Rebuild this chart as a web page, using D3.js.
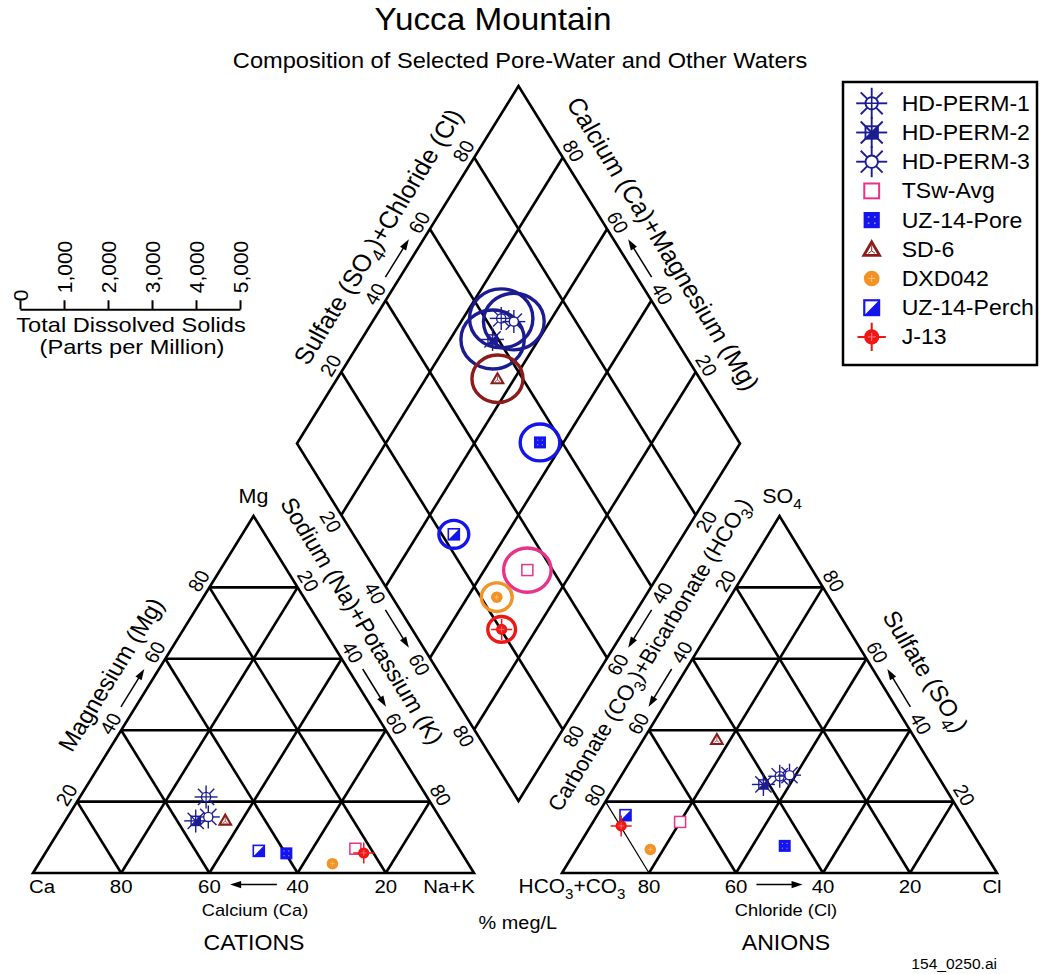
<!DOCTYPE html>
<html><head><meta charset="utf-8">
<script src="https://cdn.jsdelivr.net/npm/d3@7"></script>
<style>
body{margin:0;background:#fff;}
svg{display:block;background:#fff;}
text{font-family:"Liberation Sans",Arial,Helvetica,sans-serif;fill:#000;}
</style>
</head><body>
<svg id="c" width="1040" height="974"></svg>
<script>
// ---------------- DATA ----------------
const samples = ["HD-PERM-1","HD-PERM-2","HD-PERM-3","TSw-Avg","UZ-14-Pore","SD-6","DXD042","UZ-14-Perch","J-13"];
// cations, percent meq/L
const calcium = [50.1, 55.8, 52.4, 23.5, 39.8, 49.0, 30.8, 45.7, 22.2];
const magnesium = [21.3, 14.6, 15.7, 6.8, 5.5, 14.8, 2.6, 6.2, 5.6];
const sodiumPotassium = [28.6, 29.6, 31.9, 69.7, 54.7, 36.2, 66.6, 48.1, 72.2];
// anions, percent meq/L
const bicarbonate = [36.4, 41.3, 34.0, 65.7, 45.0, 45.7, 76.4, 77.3, 79.8];
const sulfate = [27.1, 24.8, 27.4, 14.3, 7.6, 37.4, 6.6, 16.2, 13.2];
const chloride = [36.5, 33.9, 38.6, 20.0, 47.4, 16.9, 17.0, 6.5, 7.0];
// total dissolved solids, ppm
const tds = [720, 720, 690, 540, 450, 580, 350, 340, 315];
const gridTicks = [20, 40, 60, 80];
const tdsTicks = [0, 1000, 2000, 3000, 4000, 5000];

// ---------------- STYLES ----------------
const navy = "#1c1c92", blue = "#1414ee", pink = "#e6348b", dred = "#8c1b1b", orange = "#f39326", red = "#ef1616";
const styleBySample = {
  "HD-PERM-1": {sym: "perm1", col: navy},
  "HD-PERM-2": {sym: "perm2", col: navy},
  "HD-PERM-3": {sym: "perm3", col: navy},
  "TSw-Avg": {sym: "tsw", col: pink},
  "UZ-14-Pore": {sym: "uzpore", col: blue},
  "SD-6": {sym: "sd6", col: dred},
  "DXD042": {sym: "dxd", col: orange},
  "UZ-14-Perch": {sym: "uzperch", col: blue},
  "J-13": {sym: "j13", col: red}
};
const SX = 1.074; // horizontal stretch of the original artwork

const svg = d3.select("#c");

// ---------------- SCALES ----------------
const catX = d3.scaleLinear().domain([0, 100]).range([33, 474]);
const anX = d3.scaleLinear().domain([0, 100]).range([562, 997]);
const triY = d3.scaleLinear().domain([0, 100]).range([873, 516]);
const diaX = d3.scaleLinear().domain([0, 200]).range([297, 740]);
const diaY = d3.scaleLinear().domain([-100, 100]).range([86, 801]);
const tdsR = d3.scaleLinear().domain([0, 5000]).range([0, 220]);

function catPt(ca, mg, nak) { return [catX(nak + mg / 2), triY(mg)]; }
function anPt(hco3, so4, cl) { return [anX(cl + so4 / 2), triY(so4)]; }
function diaPt(nak, scl) { return [diaX(nak + scl), diaY(nak - scl)]; }

const line = d3.line();

// ---------------- TEXT HELPER ----------------
function addText(g, x, y, parts, size, angle = 0, anchor = "middle", sx = SX) {
  const t = g.append("text")
    .attr("transform", `translate(${x},${y}) scale(${sx},1) rotate(${angle})`)
    .attr("y", size * 0.35).attr("text-anchor", anchor).attr("font-size", size);
  if (typeof parts === "string") parts = [parts];
  let sub = false;
  parts.forEach(p => {
    if (Array.isArray(p)) {
      t.append("tspan").attr("dy", size * 0.3).attr("font-size", size * 0.72).text(p[0]);
      sub = true;
    } else {
      const ts = t.append("tspan").text(p);
      if (sub) { ts.attr("dy", -size * 0.3); sub = false; }
    }
  });
  return t;
}

// ---------------- GRID ----------------
const grid = svg.append("g").attr("fill", "none").attr("stroke", "#000").attr("stroke-width", 2.6)
  .attr("stroke-linejoin", "miter").attr("stroke-linecap", "butt");

// cation triangle
grid.append("path").attr("d", line([catPt(100, 0, 0), catPt(0, 100, 0), catPt(0, 0, 100)]) + "Z");
gridTicks.forEach(v => {
  grid.append("path").attr("d", line([catPt(100 - v, v, 0), catPt(0, v, 100 - v)]));
  grid.append("path").attr("d", line([catPt(v, 100 - v, 0), catPt(v, 0, 100 - v)]));
  grid.append("path").attr("d", line([catPt(100 - v, 0, v), catPt(0, 100 - v, v)]));
});
// anion triangle
grid.append("path").attr("d", line([anPt(100, 0, 0), anPt(0, 100, 0), anPt(0, 0, 100)]) + "Z");
gridTicks.forEach(v => {
  grid.append("path").attr("d", line([anPt(100 - v, v, 0), anPt(0, v, 100 - v)]));
  grid.append("path").attr("d", line([anPt(100 - v, 0, v), anPt(0, 100 - v, v)]));
  const p = grid.append("path").attr("d", line([anPt(v, 100 - v, 0), anPt(v, 0, 100 - v)]));
  if (v === 80) p.attr("stroke-width", 1.2);
});
// diamond
grid.append("path").attr("d", line([diaPt(0, 0), diaPt(0, 100), diaPt(100, 100), diaPt(100, 0)]) + "Z");
gridTicks.forEach(v => {
  grid.append("path").attr("d", line([diaPt(v, 0), diaPt(v, 100)]));
  grid.append("path").attr("d", line([diaPt(0, v), diaPt(100, v)]));
});

// ---------------- EDGE LABELS ----------------
const nUL = [-0.8502, -0.5265], nUR = [0.8502, -0.5265], nLL = [-0.8502, 0.5265], nLR = [0.8502, 0.5265], nDown = [0, 1];
const edges = {
  catBase: {pt: v => catPt(v, 0, 100 - v), n: nDown, a: 0},
  catLeft: {pt: v => catPt(100 - v, v, 0), n: nUL, a: -60},
  catRight: {pt: v => catPt(0, 100 - v, v), n: nUR, a: 60},
  diaUL: {pt: v => diaPt(0, v), n: nUL, a: -60},
  diaUR: {pt: v => diaPt(100 - v, 100), n: nUR, a: 60},
  diaLL: {pt: v => diaPt(v, 0), n: nLL, a: 60},
  diaLR: {pt: v => diaPt(100, 100 - v), n: nLR, a: -60},
  anLeft: {pt: v => anPt(v, 100 - v, 0), n: nUL, a: -60},
  anRight: {pt: v => anPt(0, v, 100 - v), n: nUR, a: 60},
  anBase: {pt: v => anPt(v, 0, 100 - v), n: nDown, a: 0}
};
const lab = svg.append("g");
function off(e, v, d) { const p = e.pt(v); return [p[0] + d * e.n[0], p[1] + d * e.n[1]]; }

Object.keys(edges).forEach(k => {
  const e = edges[k];
  const d = e.a === 0 ? 13.4 : 12.5;
  gridTicks.forEach(v => {
    const p = off(e, v, d);
    addText(lab, p[0], p[1], String(v), 19, e.a);
  });
  // arrow
  let v0 = 44.7, v1 = 55.3;
  if (k === "anBase") { v0 = 55.3; v1 = 44.7; }
  const dd = e.a === 0 ? 11.6 : 12.5;
  const p0 = off(e, v0, dd), p1 = off(e, v1, dd);
  const L = Math.hypot(p1[0] - p0[0], p1[1] - p0[1]);
  const u = [(p1[0] - p0[0]) / L, (p1[1] - p0[1]) / L], w = [-u[1], u[0]];
  const hb = [p1[0] - 11 * u[0], p1[1] - 11 * u[1]];
  lab.append("path").attr("d", line([p0, [p1[0] - 6 * u[0], p1[1] - 6 * u[1]]])).attr("stroke", "#000").attr("stroke-width", 1.5);
  lab.append("path").attr("d", line([p1, [hb[0] + 3.6 * w[0], hb[1] + 3.6 * w[1]], [hb[0] - 3.6 * w[0], hb[1] - 3.6 * w[1]]]) + "Z").attr("fill", "#000");
});

function edgeTitle(k, v, d, parts, size) {
  const e = edges[k]; const p = off(e, v, d);
  addText(lab, p[0], p[1], parts, size, e.a);
}
edgeTitle("catLeft", 50, 38, "Magnesium (Mg)", 23);
edgeTitle("diaUL", 52, 40, ["Sulfate (SO", ["4"], ")+Chloride (Cl)"], 24);
edgeTitle("diaUR", 50, 40, "Calcium (Ca)+Magnesium (Mg)", 24);
edgeTitle("diaLL", 44, 38, "Sodium (Na)+Potassium (K)", 22.5);
edgeTitle("diaLR", 54, 34, ["Carbonate (CO", ["3"], ")+Bicarbonate (HCO", ["3"], ")"], 21);
edgeTitle("anRight", 50, 44, ["Sulfate (SO", ["4"], ")"], 23);

// corner labels
addText(lab, 42, 886.4, "Ca", 19);
addText(lab, 449, 886.4, "Na+K", 19);
addText(lab, 572, 886.4, ["HCO", ["3"], "+CO", ["3"]], 19.5);
addText(lab, 992, 886.4, "Cl", 19);
addText(lab, 253.5, 496, "Mg", 20);
addText(lab, 782, 496, ["SO", ["4"]], 20);

// axis names
addText(lab, 255, 910.5, "Calcium (Ca)", 17);
addText(lab, 786, 910.5, "Chloride (Cl)", 17);
addText(lab, 254, 942.3, "CATIONS", 21.5);
addText(lab, 786, 942.3, "ANIONS", 21.5);
addText(lab, 557, 923, "% meg/L", 18.5, 0, "end");
addText(lab, 997, 964, "154_0250.ai", 14.5, 0, "end");

// titles
addText(lab, 493, 19, "Yucca Mountain", 31);
addText(lab, 520, 60, "Composition of Selected Pore-Water and Other Waters", 22);

// ---------------- TDS SCALE ----------------
const tdsAxis = d3.axisTop(tdsR).tickValues(tdsTicks).tickSize(9).tickSizeOuter(0).tickFormat(d3.format(","));
const ag = svg.append("g").attr("transform", "translate(20,309.3)").call(tdsAxis);
ag.attr("font-family", null).attr("font-size", null);
ag.select(".domain").attr("stroke-width", 2);
ag.selectAll(".tick line").attr("stroke-width", 2);
ag.selectAll(".tick text").attr("transform", "rotate(-90)").attr("x", d => d === 0 ? 8 : 16).attr("y", 0)
  .attr("dy", "0.35em").attr("text-anchor", "start").attr("font-size", 21).attr("fill", "#000");
addText(lab, 131, 324.5, "Total Dissolved Solids", 20, 0, "middle", 1.18);
addText(lab, 132, 347, "(Parts per Million)", 20, 0, "middle", 1.18);

// ---------------- SYMBOLS ----------------
function spokes(g, r0, r1, col, w) {
  for (let i = 0; i < 8; i++) {
    const a = i * Math.PI / 4;
    g.append("line").attr("x1", r0 * Math.cos(a)).attr("y1", r0 * Math.sin(a))
      .attr("x2", r1 * Math.cos(a)).attr("y2", r1 * Math.sin(a)).attr("stroke", col).attr("stroke-width", w);
  }
}
function drawSymbol(parent, type, x, y, k) {
  const g = parent.append("g").attr("transform", `translate(${x},${y}) scale(${k})`);
  switch (type) {
    case "perm1":
      spokes(g, 4.6, 11.5, navy, 1.4);
      g.append("circle").attr("r", 4.6).attr("fill", "#fff").attr("stroke", navy).attr("stroke-width", 1.4);
      g.append("path").attr("d", "M-4.6,0H4.6M0,-4.6V4.6").attr("stroke", navy).attr("stroke-width", 1.2);
      break;
    case "perm2":
      spokes(g, 0, 11.5, navy, 1.4);
      g.append("rect").attr("x", -4.6).attr("y", -4.6).attr("width", 9.2).attr("height", 9.2).attr("fill", "none").attr("stroke", navy).attr("stroke-width", 1.4);
      g.append("path").attr("d", "M4.6,-4.6L4.6,4.6L-4.6,4.6Z").attr("fill", navy);
      break;
    case "perm3":
      spokes(g, 4.6, 11.5, navy, 1.4);
      g.append("circle").attr("r", 4.6).attr("fill", "#fff").attr("stroke", navy).attr("stroke-width", 1.4);
      break;
    case "tsw":
      g.append("rect").attr("x", -5.5).attr("y", -5.5).attr("width", 11).attr("height", 11).attr("fill", "#fff").attr("stroke", pink).attr("stroke-width", 1.5);
      break;
    case "uzpore":
      g.append("rect").attr("x", -6).attr("y", -6).attr("width", 12).attr("height", 12).attr("fill", blue);
      [[-2.3, -2.3], [2.3, -2.3], [-2.3, 2.3], [2.3, 2.3]].forEach(p => g.append("circle").attr("cx", p[0]).attr("cy", p[1]).attr("r", 0.7).attr("fill", "#8c8cff"));
      break;
    case "sd6":
      g.append("path").attr("d", "M0,-5.5L5.8,4.5L-5.8,4.5Z").attr("fill", "#fff").attr("stroke", dred).attr("stroke-width", 2.1);
      g.append("path").attr("d", "M0,-3L0,1.2M-2.5,3L0,1.2L2.5,3").attr("fill", "none").attr("stroke", dred).attr("stroke-width", 0.7);
      break;
    case "dxd":
      g.append("circle").attr("r", 5.8).attr("fill", orange);
      g.append("path").attr("d", "M-2.5,0H2.5M0,-2.5V2.5").attr("stroke", "#ffc27a").attr("stroke-width", 0.8);
      break;
    case "uzperch":
      g.append("rect").attr("x", -5.5).attr("y", -5.5).attr("width", 11).attr("height", 11).attr("fill", "#fff").attr("stroke", blue).attr("stroke-width", 1.6);
      g.append("path").attr("d", "M5.5,-5.5L5.5,5.5L-5.5,5.5Z").attr("fill", blue);
      break;
    case "j13":
      g.append("path").attr("d", "M-10.5,0H10.5M0,-10.5V10.5").attr("stroke", red).attr("stroke-width", 1.5);
      g.append("circle").attr("r", 5.6).attr("fill", red);
      g.append("path").attr("d", "M-3,0H3M0,-3V3").attr("stroke", "#ff8a8a").attr("stroke-width", 0.7);
      break;
  }
}

// ---------------- DATA MARKS ----------------
const rows = samples.map((s, i) => ({
  name: s, ca: calcium[i], mg: magnesium[i], nak: sodiumPotassium[i],
  hco3: bicarbonate[i], so4: sulfate[i], cl: chloride[i], tds: tds[i]
}));

const circles = svg.append("g");
circles.selectAll("ellipse").data(rows).join("ellipse")
  .attr("cx", d => diaPt(d.nak, d.so4 + d.cl)[0])
  .attr("cy", d => diaPt(d.nak, d.so4 + d.cl)[1])
  .attr("rx", d => tdsR(d.tds))
  .attr("ry", d => tdsR(d.tds) / SX)
  .attr("fill", "none")
  .attr("stroke", d => styleBySample[d.name].col)
  .attr("stroke-width", 3.4);

const marks = svg.append("g");
rows.forEach(d => {
  const t = styleBySample[d.name].sym;
  const pc = catPt(d.ca, d.mg, d.nak);
  const pa = anPt(d.hco3, d.so4, d.cl);
  const pd = diaPt(d.nak, d.so4 + d.cl);
  drawSymbol(marks, t, pc[0], pc[1], 1);
  drawSymbol(marks, t, pa[0], pa[1], 1);
  drawSymbol(marks, t, pd[0], pd[1], 1);
});

// ---------------- LEGEND ----------------
const leg = svg.append("g");
leg.append("rect").attr("x", 843).attr("y", 82).attr("width", 194).attr("height", 283)
  .attr("fill", "#fff").attr("stroke", "#000").attr("stroke-width", 2.5);
samples.forEach((s, i) => {
  const y = 103.3 + i * 29.2;
  drawSymbol(leg, styleBySample[s].sym, 871.7, y, 1.35);
  addText(leg, 901.7, y, s, 21.5, 0, "start");
});
</script>
</body></html>
